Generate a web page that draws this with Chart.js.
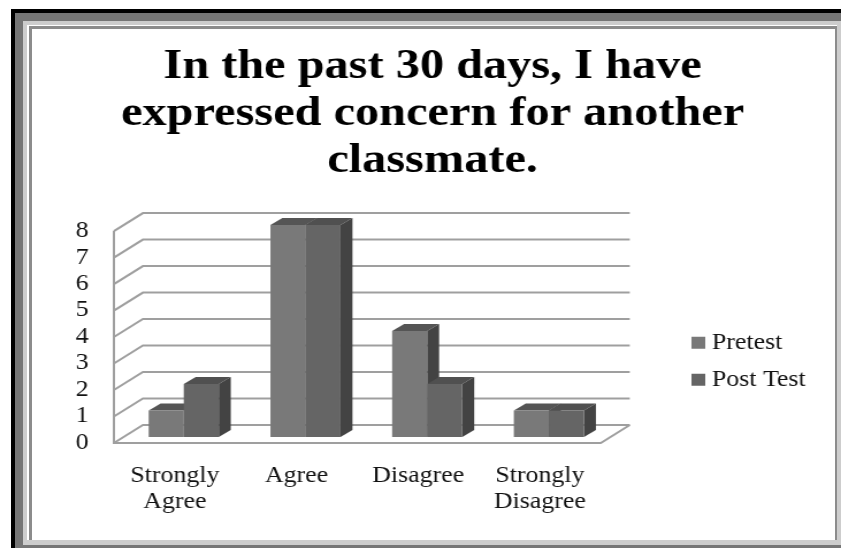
<!DOCTYPE html>
<html>
<head>
<meta charset="utf-8">
<title>Concern for another classmate</title>
<script src="https://cdn.jsdelivr.net/npm/chart.js@4"></script>
<style>
    html, body { margin: 0; padding: 0; background: #fff; overflow: hidden; }
    #wrap { position: relative; width: 841px; height: 548px; overflow: hidden; }
    .frame { position: absolute; box-sizing: border-box; }
    #f1 { left: 11px; top: 9px; width: 830px; height: 539px; background: #000; }
    #f2 { left: 15px; top: 13px; width: 826px; height: 535px; background: #767676; }
    #f3 { left: 23px; top: 21px; width: 818px; height: 524px; background: #cdcdcd; }
    #f4 { left: 27px; top: 25px; width: 810px; height: 515px; background: #fff; }
    #f5 { left: 29px; top: 26px; width: 808px; height: 514px; background: #fff;
          border-left: 3px solid #8c8c8c; border-top: 3px solid #8c8c8c; border-right: 2px solid #8c8c8c; }
    /* the reference is a picture stretched sideways, so the canvas is too */
    canvas { position: absolute; left: 0; top: 0; transform-origin: 0 0; transform: scaleX(1.1505); }
</style>
</head>
<body>
<div id="wrap">
    <div class="frame" id="f1"></div>
    <div class="frame" id="f2"></div>
    <div class="frame" id="f3"></div>
    <div class="frame" id="f4"></div>
    <div class="frame" id="f5"></div>
    <canvas id="chart" width="731" height="548"></canvas>
</div>
<script>
// Data
const titleLines = ["In the past 30 days, I have", "expressed concern for another", "classmate."];
const categories = [["Strongly", "Agree"], "Agree", "Disagree", ["Strongly", "Disagree"]];
const pretest = [1, 8, 4, 1];
const postTest = [2, 8, 2, 1];
const yTicks = [0, 1, 2, 3, 4, 5, 6, 7, 8];

const serif = "'Liberation Serif', serif";
const gridColor = "#9f9f9f";

// Depth of the fake 3D box, and where the bars sit inside it
const depthX = 25.2, depthY = 18;
const barShiftX = 7.8, barShiftY = 6;
const barDepthX = 10.4, barDepthY = 7;

const shapes = [
    { top: "#555555", side: "#434343" },
    { top: "#505050", side: "#434343" }
];

function poly(c, pts, fill) {
    c.beginPath();
    pts.forEach((p, i) => i ? c.lineTo(p[0], p[1]) : c.moveTo(p[0], p[1]));
    c.closePath();
    c.fillStyle = fill;
    c.fill();
}

const box3d = {
    id: "box3d",
    // title and legend do not sit where the layout would put them
    afterLayout(chart) {
        chart.titleBlock.left = 76;
        chart.titleBlock.right = 676;
        chart.legend.left = 592;
        chart.legend.right = 731;
        chart.legend.top = 317;
        chart.legend.bottom = 548;
    },
    // walls, gridlines and the top and side of each bar
    beforeDatasetsDraw(chart) {
        const c = chart.ctx;
        const { left, right } = chart.chartArea;
        const y = chart.scales.y;

        c.save();
        c.strokeStyle = gridColor;
        c.lineWidth = 2;
        yTicks.forEach(v => {
            const py = y.getPixelForValue(v);
            c.beginPath();
            c.moveTo(left, py);
            c.lineTo(left + depthX, py - depthY);
            c.lineTo(right + depthX, py - depthY);
            c.stroke();
        });
        // left edge and floor
        const y0 = y.getPixelForValue(0);
        c.beginPath();
        c.moveTo(left, y.getPixelForValue(8));
        c.lineTo(left, y0);
        c.lineTo(right, y0);
        c.lineTo(right + depthX, y0 - depthY);
        c.stroke();

        c.translate(barShiftX, -barShiftY);
        chart.data.datasets.forEach((ds, i) => {
            chart.getDatasetMeta(i).data.forEach(bar => {
                const x0 = bar.x - bar.width / 2, x1 = bar.x + bar.width / 2;
                poly(c, [[x0, bar.y], [x0 + barDepthX, bar.y - barDepthY], [x1 + barDepthX, bar.y - barDepthY], [x1, bar.y]], shapes[i].top);
                poly(c, [[x1, bar.y], [x1 + barDepthX, bar.y - barDepthY], [x1 + barDepthX, bar.base - barDepthY], [x1, bar.base]], shapes[i].side);
            });
        });
        c.restore();

        // front faces get the same shift
        c.save();
        c.translate(barShiftX, -barShiftY);
    },
    afterDatasetsDraw(chart) {
        chart.ctx.restore();
    }
};

new Chart(document.getElementById("chart").getContext("2d"), {
    type: "bar",
    data: {
        labels: categories,
        datasets: [
            { label: "Pretest", data: pretest, backgroundColor: "#797979" },
            { label: "Post Test", data: postTest, backgroundColor: "#656565" }
        ]
    },
    options: {
        responsive: false,
        animation: false,
        layout: { padding: { left: 0, right: 90.5, bottom: 0 } },
        datasets: { bar: { categoryPercentage: 0.576, barPercentage: 1 } },
        scales: {
            x: {
                grid: { display: false, drawTicks: false },
                border: { display: false },
                afterFit(scale) { scale.height = 105; },
                ticks: { color: "#111", font: { family: serif, size: 22.5, lineHeight: 1.155 }, padding: 20, maxRotation: 0, autoSkip: false }
            },
            y: {
                min: 0,
                max: 8,
                grid: { display: false, drawTicks: false },
                border: { display: false },
                afterFit(scale) { scale.width = 99; },
                ticks: { color: "#111", stepSize: 1, autoSkip: false, font: { family: serif, size: 22.5 }, padding: 22 }
            }
        },
        plugins: {
            title: {
                display: true,
                text: titleLines,
                color: "#000",
                font: { family: serif, size: 42, weight: "bold", lineHeight: 1.12 },
                padding: { top: 44, bottom: 46 }
            },
            legend: {
                position: "right",
                align: "start",
                labels: {
                    color: "#111",
                    font: { family: serif, size: 22.5 },
                    usePointStyle: true,
                    pointStyle: "rect",
                    boxWidth: 1,
                    boxHeight: 12,
                    padding: 14.5
                }
            },
            tooltip: { enabled: false }
        }
    },
    plugins: [box3d]
});
</script>
</body>
</html>
